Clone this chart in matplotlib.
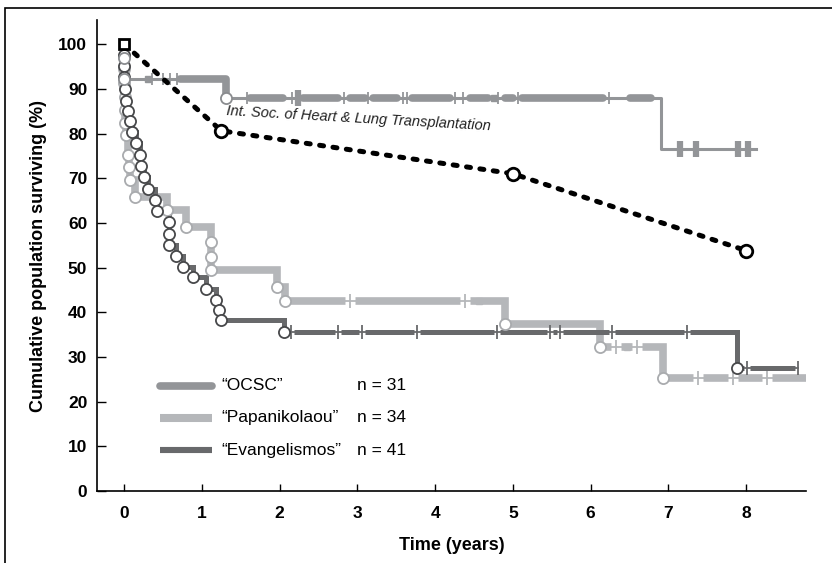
import numpy as np
import matplotlib
matplotlib.use("Agg")
import matplotlib.pyplot as plt
from matplotlib.patches import Rectangle

plt.rcParams['font.family'] = ['Liberation Sans Narrow', 'Liberation Sans', 'DejaVu Sans']

# --- data (time in years, survival in %) ---
ocsc_t = [0, 0, 0, 1.31, 6.91]
ocsc_s = [100, 96.8, 92.3, 87.9, 76.5]
ocsc_circle = [0, 1, 1, 1, 0]
ocsc_end = 8.13
ocsc_cens = [0.06, 0.36, 0.50, 0.59, 0.68, 1.58, 2.16, 2.83, 3.14, 3.58, 3.64,
             4.26, 4.36, 4.81, 5.07, 6.24]
ocsc_cens_bold = [2.24, 7.15, 7.36, 7.90, 8.02]
ocsc_sq = [0.30, 4.76]
ocsc_thick = [(0.72, 1.34), (1.62, 2.04), (2.30, 2.75), (2.91, 3.10), (3.20, 3.51),
              (3.70, 4.19), (4.45, 4.68), (4.90, 5.00), (5.12, 6.16), (6.51, 6.77)]

pap_t = [0, 0, 0, 0, 0.01, 0.01, 0.01, 0.02, 0.05, 0.06, 0.07, 0.14, 0.55, 0.80,
         1.12, 1.12, 1.12, 1.97, 2.07, 4.90, 6.12, 6.93]
pap_s = [100, 97.3, 94.4, 91.2, 88.2, 85.3, 82.4, 79.6, 75.2, 72.5, 69.6, 65.8, 62.9,
         59.1, 55.7, 52.3, 49.4, 45.7, 42.5, 37.4, 32.2, 25.3]
pap_end = 8.77
pap_cens = [2.90, 4.38, 6.33, 6.60, 7.38, 7.83, 8.27]
pap_sq = [4.57, 6.47]

ev_t = [0, 0, 0, 0, 0.01, 0.02, 0.05, 0.07, 0.10, 0.15, 0.20, 0.22, 0.26, 0.30, 0.40,
        0.42, 0.57, 0.57, 0.57, 0.66, 0.75, 0.89, 1.05, 1.18, 1.22, 1.25, 2.06, 7.88]
ev_s = [100, 97.6, 95.1, 92.7, 89.9, 87.2, 85.0, 82.8, 80.3, 77.8, 75.3, 72.8, 70.3,
        67.6, 65.2, 62.6, 60.1, 57.6, 55.1, 52.6, 50.1, 47.9, 45.3, 42.8, 40.5, 38.3,
        35.6, 27.5]
ev_end = 8.67
ev_cens = [2.14, 2.75, 3.06, 3.77, 4.80, 5.48, 5.61, 6.28, 7.24, 8.01, 8.67]

ish_t = [0, 1.25, 5.0, 8.0]
ish_s = [100, 80.6, 71.0, 53.8]

legend_names = ['\u201cOCSC\u201d', '\u201cPapanikolaou\u201d', '\u201cEvangelismos\u201d']
legend_n = ['n = 31', 'n = 34', 'n = 41']

c_ocsc = '#939598'
c_pap = '#b5b7ba'
c_ev = '#68696b'


def level_at(times, levels, t):
    idx = 0
    for i, tt in enumerate(times):
        if tt <= t:
            idx = i
    return levels[idx]


def step_xy(times, levels, a, b):
    xs = [a]
    ys = [level_at(times, levels, a)]
    for t, l in zip(times, levels):
        if a < t < b:
            xs += [t, t]
            ys += [ys[-1], l]
    xs.append(b)
    ys.append(level_at(times, levels, b))
    return xs, ys


fig = plt.figure(figsize=(8.32, 5.63), dpi=100)
ax = fig.add_axes([97 / 832, 72 / 563, 709 / 832, 471 / 563])
ax.set_xlim(-0.35, 8.77)
ax.set_ylim(0, 105.4)

# Papanikolaou
x, y = step_xy(pap_t, pap_s, 0, pap_end)
ax.plot(x, y, color=c_pap, lw=5.5, solid_joinstyle='miter', zorder=2)
cy = [level_at(pap_t, pap_s, t) for t in pap_cens]
ax.plot(pap_cens, cy, 's', ms=6.5, color='white', mec='none', zorder=2.1)
ax.plot(x, y, color=c_pap, lw=1.3, zorder=2.2)
ax.plot(pap_cens, cy, '|', ms=10, mew=1.3, color=c_pap, zorder=2.3)
ax.plot(pap_sq, [level_at(pap_t, pap_s, t) for t in pap_sq], 's', ms=4.5,
        color=c_pap, zorder=2.3)

# Evangelismos
x, y = step_xy(ev_t, ev_s, 0, ev_end)
ax.plot(x, y, color=c_ev, lw=3.6, solid_joinstyle='miter', zorder=3)
cy = [level_at(ev_t, ev_s, t) for t in ev_cens]
ax.plot(ev_cens, cy, 's', ms=4.6, color='white', mec='none', zorder=3.1)
ax.plot(x, y, color=c_ev, lw=1.3, zorder=3.2)
ax.plot(ev_cens, cy, '|', ms=10, mew=1.3, color=c_ev, zorder=3.3)

# OCSC
x, y = step_xy(ocsc_t, ocsc_s, 0, ocsc_end)
ax.plot(x, y, color=c_ocsc, lw=2.2, zorder=4)
for a, b in ocsc_thick:
    sx, sy = step_xy(ocsc_t, ocsc_s, a, b)
    ax.plot(sx, sy, color=c_ocsc, lw=5.5, solid_capstyle='round',
            solid_joinstyle='round', zorder=4.1)
ax.plot(ocsc_cens, [level_at(ocsc_t, ocsc_s, t) for t in ocsc_cens], '|', ms=9,
        mew=1.3, color=c_ocsc, zorder=4.2)
ax.plot(ocsc_cens_bold, [level_at(ocsc_t, ocsc_s, t) for t in ocsc_cens_bold], '|',
        ms=11, mew=4.5, color=c_ocsc, zorder=4.2)
ax.plot(ocsc_sq, [level_at(ocsc_t, ocsc_s, t) for t in ocsc_sq], 's', ms=5,
        color=c_ocsc, zorder=4.2)

# event circles
ax.plot(pap_t[1:], pap_s[1:], 'o', ms=8, mfc='white', mec='#a9abae', mew=1.3, zorder=5)
ax.plot(ev_t[1:], ev_s[1:], 'o', ms=8, mfc='white', mec='#47484a', mew=1.3, zorder=5.1)
oc_t = [t for t, m in zip(ocsc_t, ocsc_circle) if m]
oc_s = [s for s, m in zip(ocsc_s, ocsc_circle) if m]
ax.plot(oc_t, oc_s, 'o', ms=8, mfc='white', mec='#8a8c8f', mew=1.3, zorder=5.2)

# ISHLT reference
ax.plot(ish_t, ish_s, color='black', lw=3.6, linestyle=(0, (0.8, 1.9)),
        dash_capstyle='round', zorder=6)
ax.plot(ish_t[1:], ish_s[1:], 'o', ms=9, mfc='white', mec='black', mew=2, zorder=7)
ax.plot(ish_t[:1], ish_s[:1], 's', ms=7, mfc='white', mec='black', mew=2, zorder=7)
ax.text(3.02, 83.4, 'Int. Soc. of Heart & Lung Transplantation', rotation=-3.3,
        ha='center', va='center', fontsize=10.5, style='italic', color='#222222')

# legend drawn by hand to keep the n = column aligned
rows = [0.223, 0.155, 0.087]
widths = [5.5, 5.8, 4.4]
caps = ['round', 'butt', 'butt']
for r, name, n, c, w, cap in zip(rows, legend_names, legend_n, [c_ocsc, c_pap, c_ev],
                                 widths, caps):
    ax.plot([0.089, 0.162], [r, r], transform=ax.transAxes, color=c, lw=w,
            solid_capstyle=cap)
    ax.text(0.176, r, name, transform=ax.transAxes, va='center', fontsize=12.5)
    ax.text(0.367, r, n, transform=ax.transAxes, va='center', fontsize=12.5)

ax.spines['top'].set_visible(False)
ax.spines['right'].set_visible(False)
ax.spines['left'].set_linewidth(1.2)
ax.spines['bottom'].set_linewidth(1.2)
ax.set_xticks(range(0, 9))
ax.set_yticks(range(0, 101, 10))
ax.tick_params(axis='both', direction='in', width=1, labelsize=12.5)
ax.tick_params(axis='y', length=6.5, pad=7)
ax.tick_params(axis='x', length=5, pad=11)
for lab in ax.get_xticklabels() + ax.get_yticklabels():
    lab.set_fontweight('bold')
ax.set_xlabel('Time (years)', fontsize=13, fontweight='bold', labelpad=11)
ax.set_ylabel('Cumulative population surviving (%)', fontsize=13, fontweight='bold',
              labelpad=8)

# thin frame round the figure
fig.add_artist(Rectangle((5 / 832, -0.1), 1.2, 0.1 + 555 / 563, transform=fig.transFigure,
                         fill=False, ec='black', lw=1.2, clip_on=False))

fig.savefig('out.png', dpi=100)
